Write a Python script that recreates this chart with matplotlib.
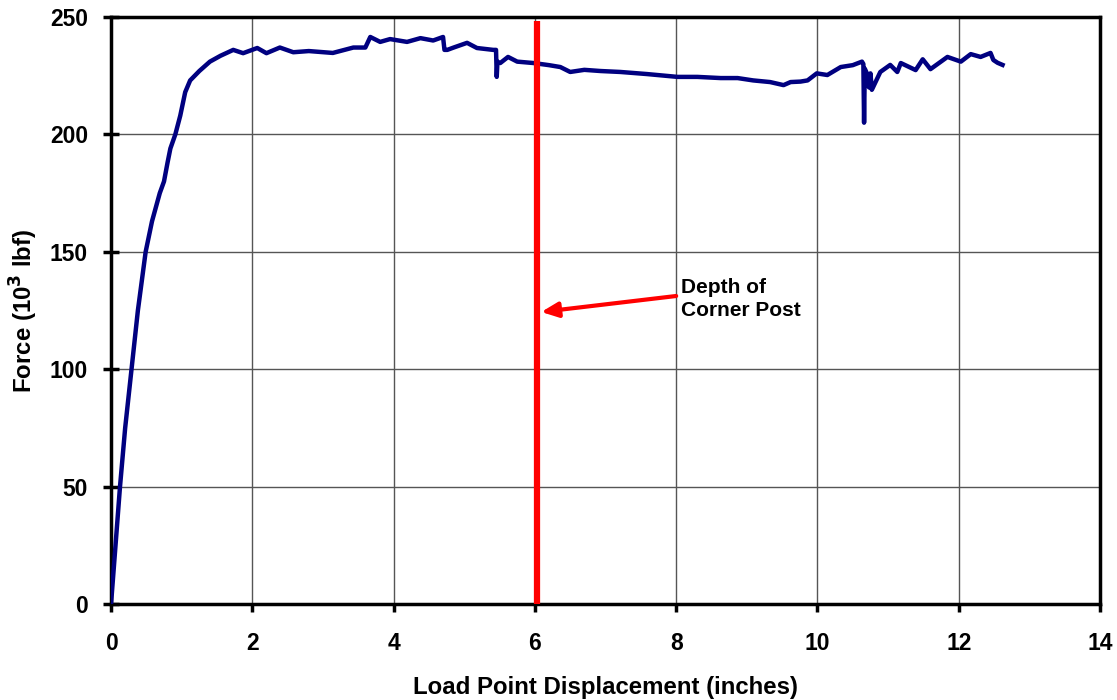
import matplotlib
matplotlib.use("Agg")
import matplotlib.pyplot as plt

plt.rcParams['font.family'] = ['Liberation Sans', 'DejaVu Sans']

# Load point displacement (inches) and force (10^3 lbf)
disp = [0.0, 0.127, 0.2, 0.29, 0.38, 0.49, 0.58, 0.69, 0.75, 0.80, 0.84, 0.91,
        0.98, 1.05, 1.12, 1.25, 1.4, 1.55, 1.73, 1.87, 2.07, 2.2, 2.39, 2.58, 2.8, 3.14,
        3.43, 3.6, 3.67, 3.81, 3.95, 4.19, 4.38, 4.56, 4.70, 4.72, 4.76, 4.85, 5.04, 5.18,
        5.41, 5.45, 5.46, 5.47, 5.51, 5.62, 5.75, 5.98, 6.2, 6.36, 6.5, 6.7, 6.93, 7.21,
        7.59, 8.02, 8.3, 8.63, 8.87, 9.09, 9.33, 9.52, 9.62, 9.76, 9.86, 9.99, 10.14,
        10.33, 10.5, 10.63, 10.65, 10.66, 10.67, 10.70, 10.73, 10.75, 10.77, 10.89,
        11.03, 11.13, 11.18, 11.39, 11.49, 11.6, 11.84, 12.03, 12.17, 12.31, 12.45,
        12.49, 12.55, 12.62]
force = [0.0, 50, 75, 100, 125, 150, 163, 175, 180, 188, 194, 200,
         208, 218, 223, 227, 231, 233.5, 236, 234.6, 236.8, 234.6, 237, 235, 235.5, 234.7,
         237, 237, 241.5, 239.4, 240.6, 239.4, 241, 240, 241.5, 236, 236, 237, 239, 236.8,
         236, 236, 224.5, 231, 230.4, 233, 231, 230.4, 229.5, 228.7, 226.6, 227.5, 227, 226.6,
         225.7, 224.5, 224.5, 224, 224, 223, 222.3, 221, 222.3, 222.5, 223, 226, 225.3,
         228.7, 229.5, 231, 230, 205, 228, 226, 220, 226, 219, 226.6,
         229.6, 226.6, 230.4, 227.4, 232, 227.8, 233, 231, 234.2, 233, 234.7,
         231.7, 230.5, 229.6]

post_depth = 6.03
arrow_tip = (6.09, 124.4)
arrow_tail = (8.0, 131.2)
note = "Depth of\nCorner Post"

fig = plt.figure(figsize=(11.17, 7.0), dpi=100)
ax = fig.add_axes([0.0994, 0.137, 0.8854, 0.8387])

ax.plot(disp, force, color='#000080', lw=3.2, solid_joinstyle='round', zorder=3)
ax.plot([post_depth, post_depth], [0, 248.5], color='#ff0000', lw=4.5, zorder=4,
        solid_capstyle='butt')

ax.annotate('', xy=arrow_tip, xytext=arrow_tail,
            arrowprops=dict(arrowstyle='-|>,head_length=1.0,head_width=0.45',
                            color='#ff0000', lw=3, shrinkA=0, shrinkB=0), zorder=5)
ax.text(8.07, 130, note, fontsize=15, fontweight='bold', ha='left', va='center',
        linespacing=1.25)

ax.set_xlim(0, 14)
ax.set_ylim(0, 250)
ax.set_xticks(range(0, 15, 2))
ax.set_yticks(range(0, 251, 50))
ax.grid(True, color='#555555', lw=1.0)
ax.set_axisbelow(True)

for s in ax.spines.values():
    s.set_linewidth(2.5)
    s.set_color('black')

ax.tick_params(axis='x', direction='out', length=6, width=2.5, labelsize=16.5, pad=14)
ax.tick_params(axis='y', direction='inout', length=11, width=2.5, labelsize=16.5, pad=11)
for lbl in ax.get_xticklabels() + ax.get_yticklabels():
    lbl.set_fontweight('bold')

ax.set_xlabel('Load Point Displacement (inches)', fontsize=17.3, fontweight='bold', labelpad=15)
ax.set_ylabel('Force (10$^{\\mathbf{3}}$ lbf)', fontsize=17.3, fontweight='bold', labelpad=7)

fig.savefig('out.png', dpi=100)
